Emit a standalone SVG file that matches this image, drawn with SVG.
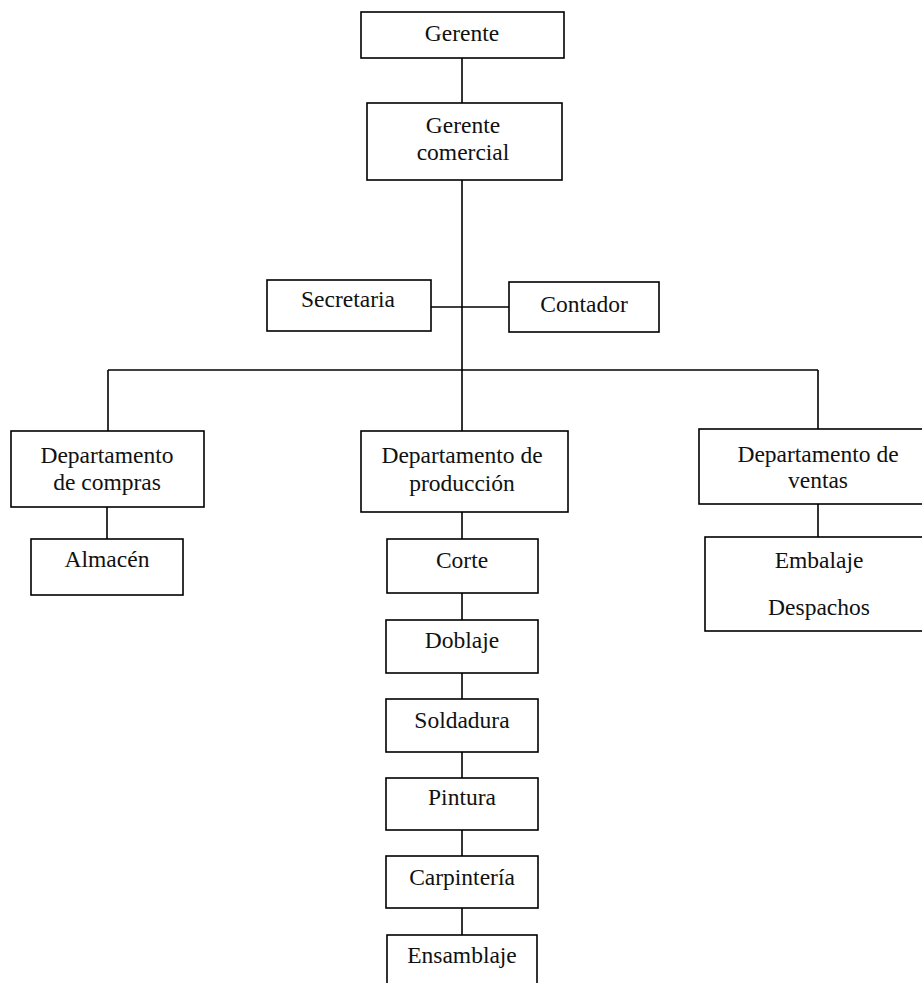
<svg xmlns="http://www.w3.org/2000/svg" width="922" height="983" viewBox="0 0 922 983">
<style>
rect{fill:#fff;stroke:#000;stroke-width:1.6}
line{stroke:#000;stroke-width:1.6}
text{font-family:'Liberation Serif','Tinos','Times New Roman','DejaVu Serif',serif;font-size:23.5px;fill:#111;text-anchor:middle}
</style>
<rect x="0" y="0" width="922" height="983" style="stroke:none"/>
<g id="connectors">
<line x1="462" y1="58" x2="462" y2="103"/>
<line x1="462" y1="180" x2="462" y2="431"/>
<line x1="431" y1="307" x2="509" y2="307"/>
<line x1="108" y1="370" x2="818" y2="370"/>
<line x1="108" y1="370" x2="108" y2="431"/>
<line x1="818" y1="370" x2="818" y2="429"/>
<line x1="107" y1="507" x2="107" y2="539"/>
<line x1="818" y1="504" x2="818" y2="537"/>
<line x1="462" y1="512" x2="462" y2="539"/>
<line x1="462" y1="593" x2="462" y2="620"/>
<line x1="462" y1="673" x2="462" y2="699"/>
<line x1="462" y1="752" x2="462" y2="778"/>
<line x1="462" y1="830" x2="462" y2="856"/>
<line x1="462" y1="908" x2="462" y2="935"/>
</g>
<g id="gerente"><rect x="361" y="12" width="203" height="46"/><text x="462" y="41" font-family="Liberation Serif">Gerente</text></g>
<g id="gerente-comercial"><rect x="367" y="103" width="195" height="77"/><text x="463" y="133">Gerente</text><text x="463" y="160">comercial</text></g>
<g id="secretaria"><rect x="267" y="280" width="164" height="51"/><text x="348" y="307">Secretaria</text></g>
<g id="contador"><rect x="509" y="282" width="150" height="50"/><text x="584" y="312">Contador</text></g>
<g id="dep-compras"><rect x="11" y="431" width="193" height="76"/><text x="107" y="463">Departamento</text><text x="107" y="490">de compras</text></g>
<g id="almacen"><rect x="31" y="539" width="152" height="56"/><text x="107" y="567">Almacén</text></g>
<g id="dep-produccion"><rect x="361" y="431" width="207" height="81"/><text x="462" y="463">Departamento de</text><text x="462" y="491">producción</text></g>
<g id="dep-ventas"><rect x="699" y="429" width="240" height="75"/><text x="818" y="462">Departamento de</text><text x="818" y="488">ventas</text></g>
<g id="embalaje-despachos"><rect x="705" y="537" width="240" height="94"/><text x="819" y="568">Embalaje</text><text x="819" y="615">Despachos</text></g>
<g id="corte"><rect x="387" y="539" width="151" height="54"/><text x="462" y="568">Corte</text></g>
<g id="doblaje"><rect x="386" y="620" width="152" height="53"/><text x="462" y="648">Doblaje</text></g>
<g id="soldadura"><rect x="386" y="699" width="152" height="53"/><text x="462" y="728">Soldadura</text></g>
<g id="pintura"><rect x="386" y="778" width="152" height="52"/><text x="462" y="805">Pintura</text></g>
<g id="carpinteria"><rect x="386" y="856" width="152" height="52"/><text x="462" y="885">Carpintería</text></g>
<g id="ensamblaje"><rect x="387" y="935" width="150" height="60"/><text x="462" y="963">Ensamblaje</text></g>
</svg>
